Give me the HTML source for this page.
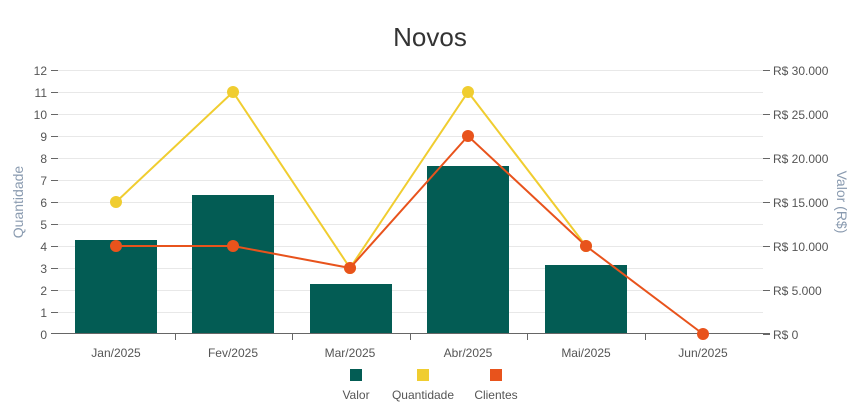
<!DOCTYPE html>
<html><head><meta charset="utf-8"><style>
html,body{margin:0;padding:0;background:#fff;}
svg{display:block;font-family:"Liberation Sans",sans-serif;}
</style></head><body>
<svg width="860" height="406" viewBox="0 0 860 406">
<text x="430" y="46" text-anchor="middle" font-size="26" fill="#333">Novos</text>
<g stroke="#e8e8e8" stroke-width="1">
<line x1="58" x2="763" y1="70.5" y2="70.5"/><line x1="58" x2="763" y1="92.5" y2="92.5"/><line x1="58" x2="763" y1="114.5" y2="114.5"/><line x1="58" x2="763" y1="136.5" y2="136.5"/><line x1="58" x2="763" y1="158.5" y2="158.5"/><line x1="58" x2="763" y1="180.5" y2="180.5"/><line x1="58" x2="763" y1="202.5" y2="202.5"/><line x1="58" x2="763" y1="224.5" y2="224.5"/><line x1="58" x2="763" y1="246.5" y2="246.5"/><line x1="58" x2="763" y1="268.5" y2="268.5"/><line x1="58" x2="763" y1="290.5" y2="290.5"/><line x1="58" x2="763" y1="312.5" y2="312.5"/>
</g>
<g font-size="12" fill="#555" text-anchor="end">
<text x="47" y="75">12</text><text x="47" y="97">11</text><text x="47" y="119">10</text><text x="47" y="141">9</text><text x="47" y="163">8</text><text x="47" y="185">7</text><text x="47" y="207">6</text><text x="47" y="229">5</text><text x="47" y="251">4</text><text x="47" y="273">3</text><text x="47" y="295">2</text><text x="47" y="317">1</text><text x="47" y="339">0</text>
</g>
<g stroke="#666" stroke-width="1">
<line x1="51" x2="58" y1="70.5" y2="70.5"/><line x1="51" x2="58" y1="92.5" y2="92.5"/><line x1="51" x2="58" y1="114.5" y2="114.5"/><line x1="51" x2="58" y1="136.5" y2="136.5"/><line x1="51" x2="58" y1="158.5" y2="158.5"/><line x1="51" x2="58" y1="180.5" y2="180.5"/><line x1="51" x2="58" y1="202.5" y2="202.5"/><line x1="51" x2="58" y1="224.5" y2="224.5"/><line x1="51" x2="58" y1="246.5" y2="246.5"/><line x1="51" x2="58" y1="268.5" y2="268.5"/><line x1="51" x2="58" y1="290.5" y2="290.5"/><line x1="51" x2="58" y1="312.5" y2="312.5"/>
<line x1="763" x2="770" y1="70.5" y2="70.5"/><line x1="763" x2="770" y1="114.5" y2="114.5"/><line x1="763" x2="770" y1="158.5" y2="158.5"/><line x1="763" x2="770" y1="202.5" y2="202.5"/><line x1="763" x2="770" y1="246.5" y2="246.5"/><line x1="763" x2="770" y1="290.5" y2="290.5"/><line x1="763" x2="770" y1="334.5" y2="334.5"/>
<line x1="51" x2="770" y1="333.5" y2="333.5"/>
<line x1="175.5" x2="175.5" y1="334" y2="340"/><line x1="292.5" x2="292.5" y1="334" y2="340"/><line x1="410.5" x2="410.5" y1="334" y2="340"/><line x1="527.5" x2="527.5" y1="334" y2="340"/><line x1="645.5" x2="645.5" y1="334" y2="340"/>
</g>
<g font-size="12" fill="#555">
<text x="773" y="75">R$ 30.000</text><text x="773" y="119">R$ 25.000</text><text x="773" y="163">R$ 20.000</text><text x="773" y="207">R$ 15.000</text><text x="773" y="251">R$ 10.000</text><text x="773" y="295">R$ 5.000</text><text x="773" y="339">R$ 0</text>
</g>
<text transform="translate(23,202) rotate(-90)" text-anchor="middle" font-size="14" fill="#8a9bb0">Quantidade</text>
<text transform="translate(837,202) rotate(90)" text-anchor="middle" font-size="14" fill="#8a9bb0">Valor (R$)</text>
<g fill="#035c54">
<rect x="75" y="240" width="82" height="93"/><rect x="192" y="195" width="82" height="138"/><rect x="310" y="284" width="82" height="49"/><rect x="427" y="166" width="82" height="167"/><rect x="545" y="265" width="82" height="68"/>
</g>
<polyline points="116,202 233,92 350,268 468,92 586,246" fill="none" stroke="#f0cd30" stroke-width="2"/>
<g fill="#f0cd30"><circle cx="116" cy="202" r="6"/><circle cx="233" cy="92" r="6"/><circle cx="350" cy="268" r="6"/><circle cx="468" cy="92" r="6"/><circle cx="586" cy="246" r="6"/></g>
<polyline points="116,246 233,246 350,268 468,136 586,246 703,334" fill="none" stroke="#e8531c" stroke-width="2"/>
<g fill="#e8531c"><circle cx="116" cy="246" r="6"/><circle cx="233" cy="246" r="6"/><circle cx="350" cy="268" r="6"/><circle cx="468" cy="136" r="6"/><circle cx="586" cy="246" r="6"/><circle cx="703" cy="334" r="6"/></g>
<g font-size="12" fill="#555" text-anchor="middle">
<text x="116" y="357">Jan/2025</text><text x="233" y="357">Fev/2025</text><text x="350" y="357">Mar/2025</text><text x="468" y="357">Abr/2025</text><text x="586" y="357">Mai/2025</text><text x="703" y="357">Jun/2025</text>
</g>
<rect x="350" y="369" width="12" height="12" fill="#035c54"/>
<rect x="417" y="369" width="12" height="12" fill="#f0cd30"/>
<rect x="490" y="369" width="12" height="12" fill="#e8531c"/>
<g font-size="12" fill="#555" text-anchor="middle">
<text x="356" y="399">Valor</text><text x="423" y="399">Quantidade</text><text x="496" y="399">Clientes</text>
</g>
</svg>
</body></html>
